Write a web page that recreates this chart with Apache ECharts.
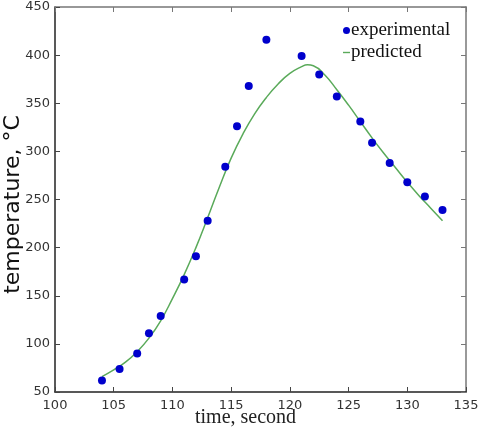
<!DOCTYPE html>
<html>
<head>
<meta charset="utf-8">
<script src="https://cdn.jsdelivr.net/npm/echarts@6/dist/echarts.min.js"></script>
<style>
  html,body{margin:0;padding:0;background:#fff;}
  #chart{width:479px;height:430px;}
</style>
</head>
<body>
<div id="chart"></div>
<script>
// measured points
const expTime = [104, 105.5, 107, 108, 109, 111, 112, 113, 114.5, 115.5, 116.5, 118, 121, 122.5, 124, 126, 127, 128.5, 130, 131.5, 133]
const expTemp = [62, 74, 90, 111, 129, 167, 191, 228, 284, 326, 368, 416, 399, 380, 357, 331, 309, 288, 268, 253, 239]
// model curve
const predTime = [104, 105, 106, 107, 108, 109, 110, 111, 112, 113, 114, 115, 116, 117, 118, 119, 120, 121, 121.5, 122, 123, 124, 125, 126, 127, 128, 129, 130, 131, 132, 133]
const predTemp = [66, 73, 81, 92, 106, 124, 147, 172, 200, 231, 263, 293, 318, 339, 356, 370, 381, 388, 390, 389, 379, 364, 348, 331, 314, 298, 283, 268, 254, 241, 228]
const xTicks = [100, 135, 5]
const yTicks = [50, 450, 50]

var myChart = echarts.init(document.getElementById('chart'))

const tickLbl = {color:'#333', fontFamily:'DejaVu Sans', fontSize:13}

myChart.setOption({
  animation:false,
  grid:{left:55, top:7, right:13, bottom:38, containLabel:false, outerBoundsMode:'none'},
  legend:{
    orient:'vertical',
    left:338, top:16,
    itemGap:3,
    itemWidth:7, itemHeight:7,
    symbolKeepAspect:true,
    textStyle:{fontFamily:'Liberation Serif', fontSize:19, color:'#111', padding:[0,0,0,-4]},
    data:[
      {name:'experimental', icon:'circle', itemStyle:{color:'#0000cc'}},
      {name:'predicted', icon:'path://M0,0L8,0L8,1.6L0,1.6Z', itemStyle:{color:'#5aaa5a'}}
    ]
  },
  xAxis:[{
    type:'value', min:xTicks[0], max:xTicks[1], interval:xTicks[2],
    name:'time, second', nameLocation:'middle', nameGap:16, nameMoveOverlap:false,
    nameTextStyle:{fontFamily:'Liberation Serif', fontSize:20, color:'#222', padding:[0,30,0,0]},
    axisLine:{show:true, onZero:false, lineStyle:{color:'#222', width:1.5}},
    axisTick:{show:true, inside:true, length:5, lineStyle:{color:'#444'}},
    axisLabel:Object.assign({margin:7}, tickLbl),
    splitLine:{show:false}
  },{
    type:'value', position:'top', min:xTicks[0], max:xTicks[1], interval:xTicks[2],
    axisLine:{show:true, onZero:false, lineStyle:{color:'#777', width:1.5}},
    axisTick:{show:true, inside:true, length:5, lineStyle:{color:'#777'}},
    axisLabel:{show:false}, splitLine:{show:false}
  }],
  yAxis:[{
    type:'value', min:yTicks[0], max:yTicks[1], interval:yTicks[2],
    name:'temperature, °C', nameLocation:'middle', nameGap:31, nameMoveOverlap:false,
    nameTextStyle:{fontFamily:'DejaVu Sans', fontSize:22, color:'#111', padding:[0,10,0,0]},
    axisLine:{show:true, onZero:false, lineStyle:{color:'#222', width:1.5}},
    axisTick:{show:true, inside:true, length:5, lineStyle:{color:'#444'}},
    axisLabel:Object.assign({margin:5}, tickLbl),
    splitLine:{show:false}
  },{
    type:'value', position:'right', min:yTicks[0], max:yTicks[1], interval:yTicks[2],
    axisLine:{show:true, onZero:false, lineStyle:{color:'#777', width:1.5}},
    axisTick:{show:true, inside:true, length:5, lineStyle:{color:'#777'}},
    axisLabel:{show:false}, splitLine:{show:false}
  }],
  series:[{
    name:'predicted', type:'line', smooth:0.5, showSymbol:false,
    data:predTime.map((t,i)=>[t, predTemp[i]]),
    lineStyle:{color:'#5aaa5a', width:1.5},
    itemStyle:{color:'#5aaa5a'},
    z:2
  },{
    name:'experimental', type:'scatter', symbolSize:8,
    data:expTime.map((t,i)=>[t, expTemp[i]]),
    itemStyle:{color:'#0000cc', opacity:1},
    z:3
  }]
})
</script>
</body>
</html>
